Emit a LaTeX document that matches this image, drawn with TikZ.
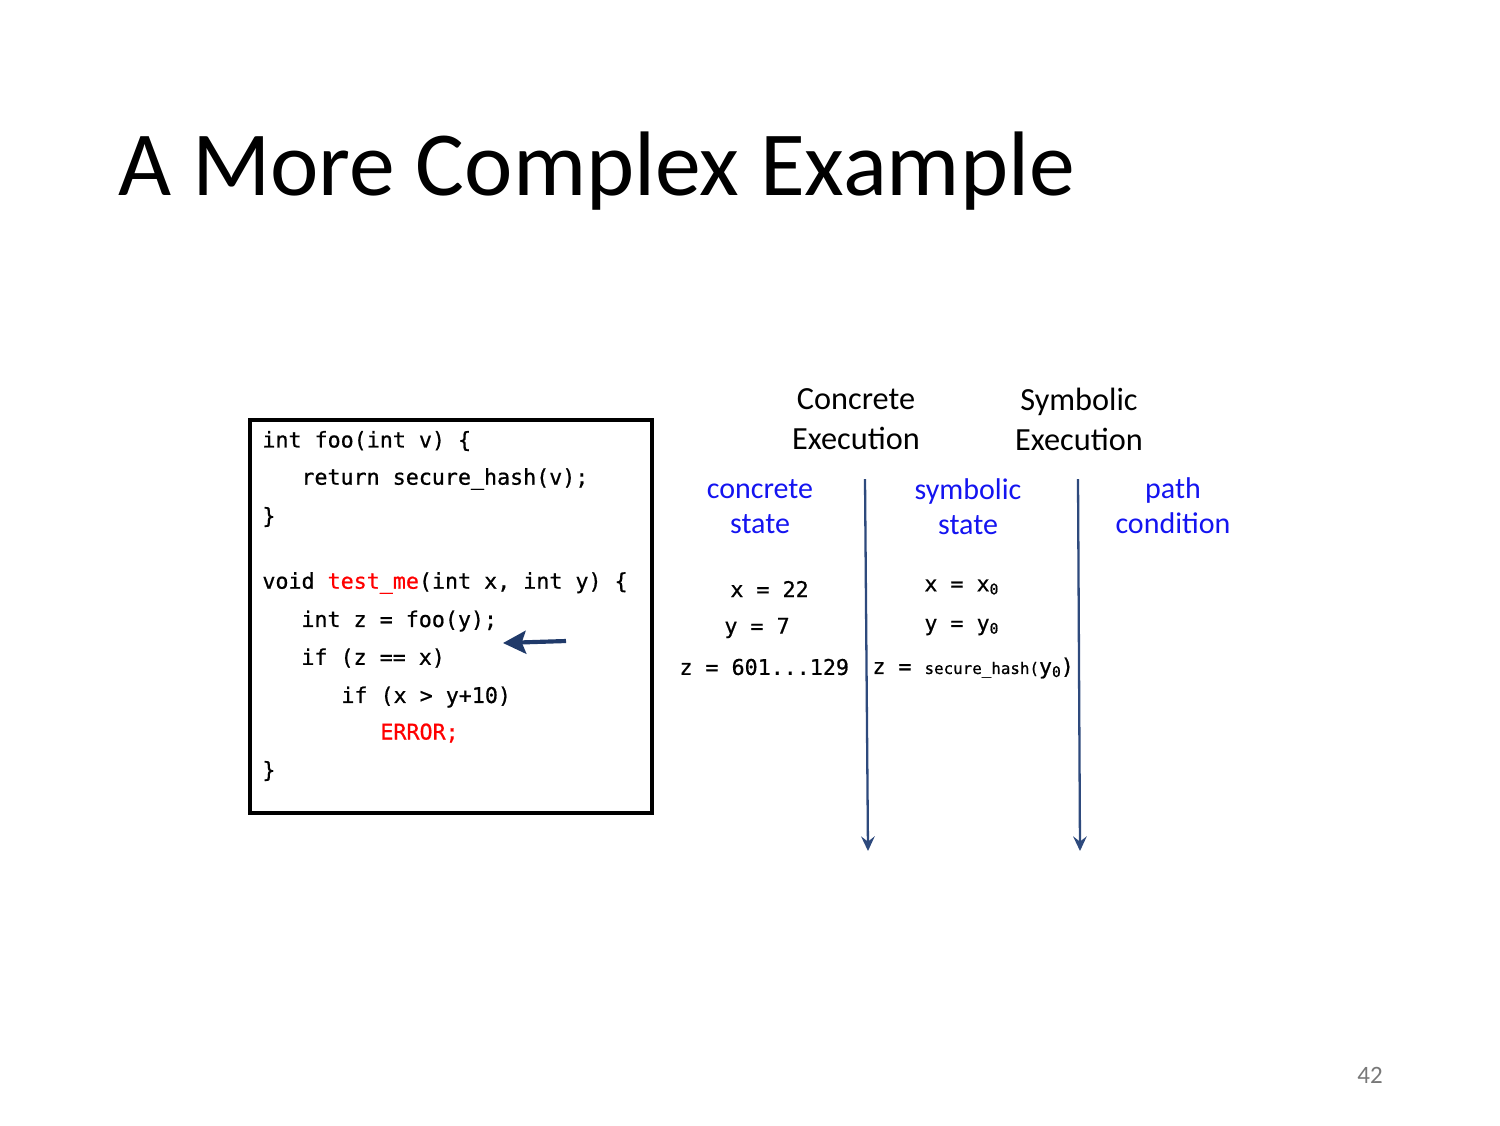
\documentclass[tikz,border=0pt]{standalone}
\usepackage{fontspec}
\setmainfont{Carlito}
\newfontface\codefont{DejaVu Sans Mono}[FakeBold=0.7]
\usetikzlibrary{arrows.meta}
\definecolor{navyarrow}{HTML}{203A6A}
\definecolor{vline}{HTML}{2E4A7D}
\definecolor{lblblue}{RGB}{20,20,240}
\definecolor{codered}{RGB}{255,0,0}
\definecolor{pagegray}{RGB}{120,120,120}
\begin{document}
\begin{tikzpicture}[x=0.48pt,y=-0.48pt,
  code/.style={anchor=west,inner sep=0pt,font=\codefont\fontsize{10.4}{12}\selectfont},
  head/.style={align=center,inner sep=0pt,font=\fontsize{15.5}{19.2}\selectfont},
  lbl/.style={align=center,inner sep=0pt,text=lblblue,font=\fontsize{14.4}{16.8}\selectfont},
  vert/.style={draw=vline,line width=1.1pt,-{Stealth[length=7pt,width=6.5pt,inset=2.5pt]}}]
\useasboundingbox (0,0) rectangle (1500,1125);
% title
\node[anchor=base west,inner sep=0pt,font=\fontsize{44}{50}\selectfont] (title) at (118,195) {A More Complex Example};
% code box
\node[draw=black,line width=1.5pt,minimum width=402*0.48pt,minimum height=393*0.48pt,inner sep=0pt] (box) at (451,616.5) {};
\node[code] (l1) at (262,441) {int foo(int v) \{};
\node[code] (l2) at (301,479) {return secure\_hash(v);};
\node[code] (l3) at (262,517) {\}};
\node[code] (l4) at (262,583) {void \textcolor{codered}{test\_me}(int x, int y) \{};
\node[code] (l5) at (301,621) {int z = foo(y);};
\node[code] (l6) at (301,658) {if (z == x)};
\node[code] (l7) at (341,697) {if (x > y+10)};
\node[code,text=codered] (l8) at (380,733) {ERROR;};
\node[code] (l9) at (262,771) {\}};
% pointer arrow
\coordinate (pa) at (566,641);
\coordinate (pb) at (503,643);
\draw[navyarrow,line width=2pt,-{Stealth[length=11pt,width=11pt,inset=2pt]}] (pa) -- (pb);
% headings
\node[head] (conc) at (856,419) {Concrete\\Execution};
\node[head] (symb) at (1079,419) {Symbolic\\Execution};
\node[lbl] (cstate) at (760,507) {concrete\\state};
\node[lbl] (sstate) at (968,507) {symbolic\\state};
\node[lbl] (pcond) at (1173,506) {path\\condition};
% vertical arrows
\coordinate (v1t) at (865,479);
\coordinate (v1b) at (868,851);
\coordinate (v2t) at (1078,479);
\coordinate (v2b) at (1080,851);
\draw[vert] (v1t) -- (v1b);
\draw[vert] (v2t) -- (v2b);
% concrete values
\node[code] (cx) at (730,589) {x = 22};
\node[code] (cy) at (724,628) {y = 7};
\node[code] (cz) at (679,667) {z = 601...129};
% symbolic values
\node[code] (sx) at (924,587) {x = x\raisebox{-0.25ex}{\fontsize{7}{8}\selectfont 0}};
\node[code] (sy) at (924,627) {y = y\raisebox{-0.25ex}{\fontsize{7}{8}\selectfont 0}};
\node[code] (sz) at (872,668) {z = {\fontsize{7.6}{9}\selectfont secure\_hash(}y\raisebox{-0.25ex}{\fontsize{7}{8}\selectfont 0})};
% page number
\node[inner sep=0pt,text=pagegray,font=\fontsize{12}{14}\selectfont] (pnum) at (1370,1075) {42};
\end{tikzpicture}
\end{document}
